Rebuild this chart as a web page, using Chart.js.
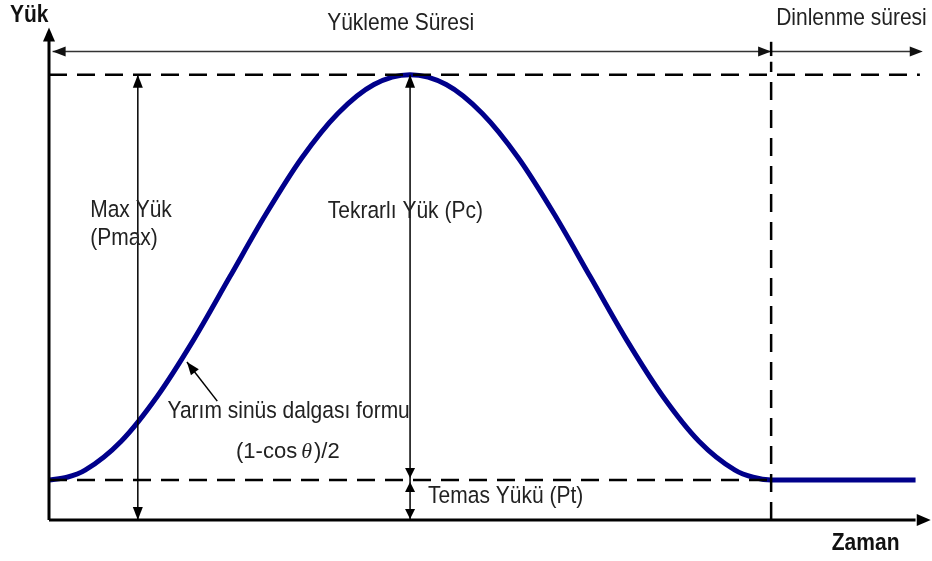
<!DOCTYPE html>
<html>
<head>
<meta charset="utf-8">
<script src="https://cdn.jsdelivr.net/npm/chart.js@4.4.1/dist/chart.umd.min.js"></script>
<style>
html, body { margin: 0; padding: 0; background: #fff; }
</style>
</head>
<body>
<canvas id="myChart" width="932" height="561"></canvas>
<script>
// Zaman (x) ve yük (y) değerleri
const timeVals = [0, 2.5, 5, 10, 15, 20, 25, 30, 35, 40, 45, 50, 55, 60, 65, 70, 75, 80, 85, 90, 95, 97.5, 100, 110, 120];
const loadVals = [9, 9.6, 11.2, 17.7, 27.8, 40.4, 54.5, 68.6, 81.3, 91.3, 97.8, 100, 97.8, 91.3, 81.3, 68.6, 54.5, 40.4, 27.8, 17.7, 11.2, 9.6, 9, 9, 9];

const loadEnd = 100;     // yükleme süresinin sonu
const restEnd = 121;     // dinlenme oku sonu
const peakLoad = 100;    // Pmax
const contactLoad = 9;   // Pt
const pmaxAt = 12.3;     // Max Yük okunun zamanı
const pcAt = 50;         // Tekrarlı Yük okunun zamanı

const FONT = '"Liberation Sans", Arial, sans-serif';

// Metin etiketleri (veri birimlerinde)
const labels = [
    { text: 'Yükleme Süresi', x: 48.7, y: 111.5, align: 'center' },
    { text: 'Dinlenme süresi', x: 100.7, y: 112.6, align: 'left' },
    { text: 'Max Yük', x: 5.7, y: 69.4, align: 'left' },
    { text: '(Pmax)', x: 5.7, y: 63.1, align: 'left' },
    { text: 'Tekrarlı Yük (Pc)', x: 38.6, y: 69.2, align: 'left' },
    { text: 'Yarım sinüs dalgası formu', x: 16.4, y: 24.3, align: 'left' },
    { text: 'Temas Yükü (Pt)', x: 52.5, y: 5.2, align: 'left' },
    { text: 'Yük', x: -5.4, y: 113.3, align: 'left', bold: true },
    { text: 'Zaman', x: 108.4, y: -5.2, align: 'left', bold: true }
];

const arrowHead = (ctx, x, y, angle, len, half) => {
    ctx.save();
    ctx.translate(x, y);
    ctx.rotate(angle);
    ctx.beginPath();
    ctx.moveTo(0, 0);
    ctx.lineTo(-len, -half);
    ctx.lineTo(-len, half);
    ctx.closePath();
    ctx.fill();
    ctx.restore();
};

const line = (ctx, x1, y1, x2, y2) => {
    ctx.beginPath();
    ctx.moveTo(x1, y1);
    ctx.lineTo(x2, y2);
    ctx.stroke();
};

const drawText = (ctx, text, x, y, align, bold) => {
    ctx.save();
    ctx.font = (bold ? 'bold ' : '') + '21px ' + FONT;
    ctx.textAlign = align;
    ctx.textBaseline = 'middle';
    ctx.fillStyle = bold ? '#111' : '#222';
    ctx.translate(x, y);
    ctx.scale(1, 1.1);
    ctx.fillText(text, 0, 0);
    ctx.restore();
};

const diagramPlugin = {
    id: 'diagram',
    afterDatasetsDraw(chart) {
        const ctx = chart.ctx;
        const xs = chart.scales.x;
        const ys = chart.scales.y;
        const px = v => xs.getPixelForValue(v);
        const py = v => ys.getPixelForValue(v);
        const PI = Math.PI;

        ctx.save();
        ctx.strokeStyle = '#000';
        ctx.fillStyle = '#000';

        // Kesikli çizgiler
        ctx.lineWidth = 2.5;
        ctx.setLineDash([18, 10]);
        line(ctx, px(0), py(peakLoad), px(120.6), py(peakLoad));
        line(ctx, px(0), py(contactLoad), px(loadEnd), py(contactLoad));
        line(ctx, px(loadEnd), py(0), px(loadEnd), py(102.9));
        ctx.setLineDash([]);

        // Eksenler
        ctx.lineWidth = 3;
        line(ctx, px(0), py(0), px(0), py(108));
        arrowHead(ctx, px(0), py(110.6), -PI / 2, 14, 6);
        line(ctx, px(0), py(0), px(120), py(0));
        arrowHead(ctx, px(122.1), py(0), 0, 14, 6);

        // Üst süre okları
        ctx.lineWidth = 1.5;
        ctx.strokeStyle = '#333';
        ctx.fillStyle = '#111';
        line(ctx, px(0.5), py(105.2), px(restEnd - 1), py(105.2));
        arrowHead(ctx, px(0.5), py(105.2), PI, 13, 5);
        arrowHead(ctx, px(loadEnd), py(105.2), 0, 13, 5);
        arrowHead(ctx, px(restEnd), py(105.2), 0, 13, 5);
        ctx.lineWidth = 2.5;
        ctx.strokeStyle = '#000';
        line(ctx, px(loadEnd), py(107.4), px(loadEnd), py(104.2));

        // Dikey ölçü okları
        ctx.lineWidth = 1.5;
        ctx.fillStyle = '#000';
        line(ctx, px(pmaxAt), py(peakLoad), px(pmaxAt), py(0));
        arrowHead(ctx, px(pmaxAt), py(peakLoad), -PI / 2, 13, 5);
        arrowHead(ctx, px(pmaxAt), py(0), PI / 2, 13, 5);

        line(ctx, px(pcAt), py(peakLoad), px(pcAt), py(contactLoad));
        arrowHead(ctx, px(pcAt), py(peakLoad), -PI / 2, 13, 5);
        arrowHead(ctx, px(pcAt), py(contactLoad) - 2, PI / 2, 10, 5);

        line(ctx, px(pcAt), py(contactLoad), px(pcAt), py(0));
        arrowHead(ctx, px(pcAt), py(contactLoad) + 2, -PI / 2, 10, 5);
        arrowHead(ctx, px(pcAt), py(0) - 1, PI / 2, 10, 5);

        // Yarım sinüs açıklama oku
        const tipX = px(19.1), tipY = py(35.5);
        const tailX = px(23.3), tailY = py(26.7);
        line(ctx, tailX, tailY, tipX, tipY);
        arrowHead(ctx, tipX, tipY, Math.atan2(tipY - tailY, tipX - tailX), 13, 5);
        ctx.restore();

        labels.forEach(l => drawText(ctx, l.text, px(l.x), py(l.y), l.align, l.bold));

        // (1-cos θ)/2
        let fx = px(25.9);
        const fy = py(15.3);
        ctx.save();
        ctx.textBaseline = 'middle';
        ctx.textAlign = 'left';
        ctx.fillStyle = '#222';
        ctx.font = '22px ' + FONT;
        ctx.fillText('(1-cos', fx, fy);
        fx += ctx.measureText('(1-cos').width + 4;
        ctx.font = 'italic 22px "Liberation Serif", serif';
        ctx.fillText('θ', fx, fy);
        fx += ctx.measureText('θ').width + 2;
        ctx.font = '22px ' + FONT;
        ctx.fillText(')/2', fx, fy);
        ctx.restore();
    }
};

const ctx = document.getElementById('myChart').getContext('2d');
const myChart = new Chart(ctx, {
    type: 'line',
    data: {
        datasets: [{
            label: 'Yük',
            data: timeVals.map((t, i) => ({ x: t, y: loadVals[i] })),
            borderColor: '#00008b',
            borderWidth: 5,
            cubicInterpolationMode: 'monotone',
            pointRadius: 0,
            fill: false,
            clip: false
        }]
    },
    options: {
        responsive: false,
        animation: false,
        devicePixelRatio: 1,
        layout: { padding: { left: 49, right: 2, top: 28, bottom: 41 } },
        plugins: {
            legend: { display: false },
            tooltip: { enabled: false }
        },
        scales: {
            x: { type: 'linear', display: false, min: 0, max: 122 },
            y: { display: false, min: 0, max: 110.5 }
        }
    },
    plugins: [diagramPlugin]
});
</script>
</body>
</html>
